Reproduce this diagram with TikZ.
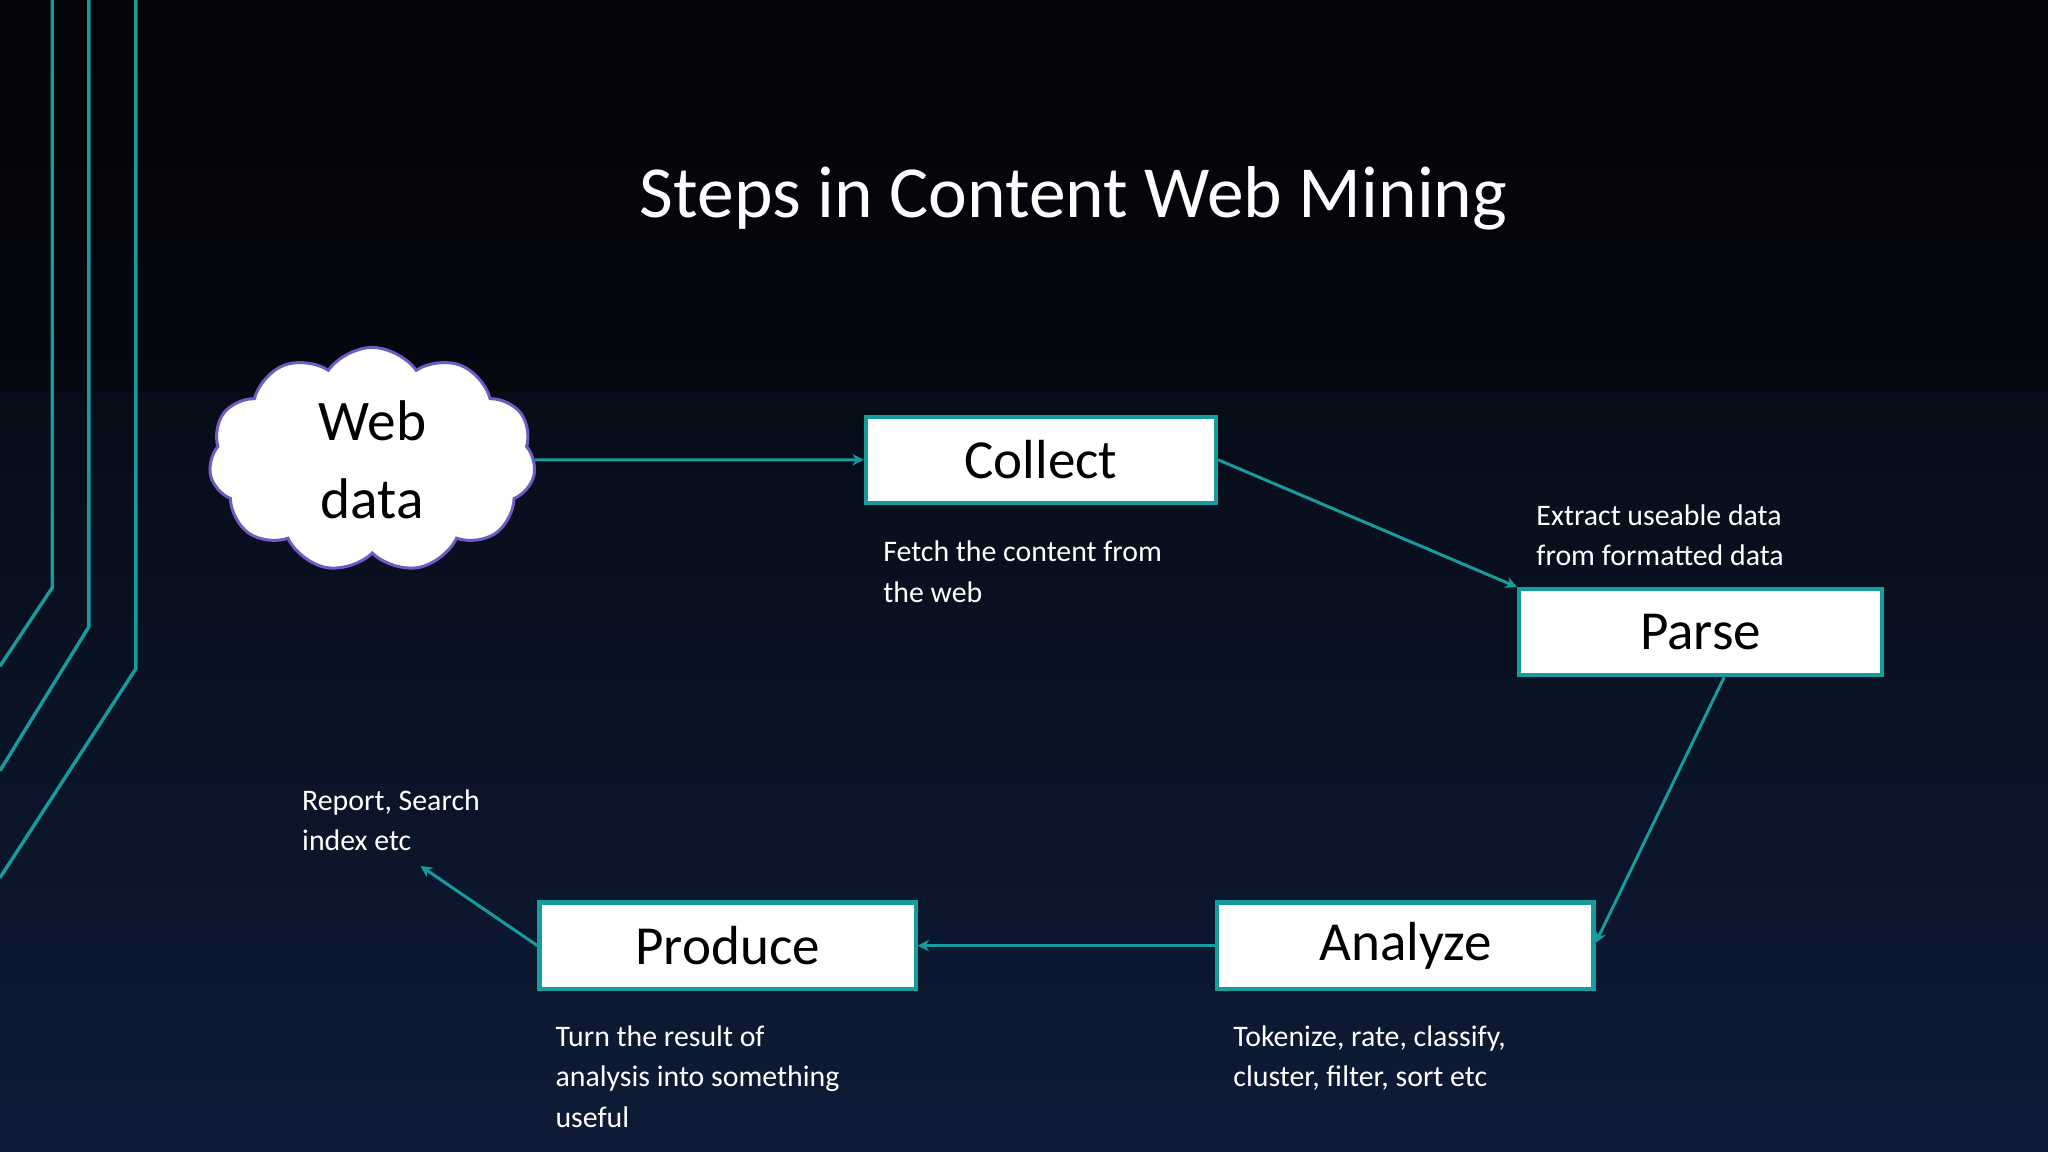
\documentclass[tikz,border=0pt]{standalone}
\usepackage{fontspec}
\setmainfont{Carlito}
\usetikzlibrary{shapes.symbols,arrows.meta}
\definecolor{teal1}{HTML}{169C9C}
\definecolor{bgA}{HTML}{030407}
\definecolor{bgB}{HTML}{0E1C38}
\definecolor{cloudline}{HTML}{6E5CC4}
\begin{document}
\begin{tikzpicture}[x=0.02cm,y=-0.02cm,
  box/.style={draw=teal1,line width=1.8pt,fill=white,minimum width=268*0.02cm,minimum height=66*0.02cm,font=\fontsize{24}{28}\selectfont,text=black},
  conn/.style={draw=teal1,line width=1.3pt,-{Stealth[length=5pt,width=5pt]}},
  note/.style={text=white,font=\fontsize{13}{17.6}\selectfont,align=left,anchor=north west,inner sep=0pt}]
\shade[left color=bgA,right color=bgB,shading angle=0] (0,0) rectangle (1568,882);
\fill[bgA,opacity=0.45] (0,0) rectangle (1568,300);
\useasboundingbox (0,0) rectangle (1568,882);
\begin{scope}[draw=teal1,line width=1.5pt]
\draw (40,0) -- (40,450) -- (0,510);
\draw (68,0) -- (68,480) -- (0,590);
\draw (104,0) -- (104,512) -- (0,672);
\end{scope}
\node[text=white,font=\fontsize{32}{38}\selectfont] (title) at (822,152) {Steps in Content Web Mining};
\node[cloud,cloud puffs=11,cloud puff arc=110,aspect=1.4,draw=cloudline,line width=1.3pt,fill=white,minimum width=250*0.02cm,minimum height=172*0.02cm,align=center,font=\fontsize{25}{34}\selectfont] (web) at (285,352) {Web\\data};
\node[box,minimum width=268*0.02cm] (collect) at (797,352) {Collect};
\node[box,minimum width=278*0.02cm] (parse) at (1302,484) {Parse};
\node[box,minimum width=288*0.02cm] (analyze) at (1076,724) {Analyze};
\node[box,minimum width=288*0.02cm] (produce) at (557,724) {Produce};
\coordinate (out) at (322,663);
\draw[conn] (web.east) -- (collect.west);
\draw[conn] (collect.east) -- (parse.north west);
\draw[conn] (parse.south) ++(18,0) coordinate (ps) -- (analyze.north east |- 0,722) ;
\draw[conn] (analyze.west) -- (produce.east);
\draw[conn] (produce.west) -- (out);
\node[note] (n1) at (676,414) {Fetch the content from\\the web};
\node[note] (n2) at (1176,386) {Extract useable data\\from formatted data};
\node[note] (n3) at (231,604) {Report, Search\\index etc};
\node[note] (n4) at (425,785) {Turn the result of\\analysis into something\\useful};
\node[note] (n5) at (944,785) {Tokenize, rate, classify,\\cluster, filter, sort etc};
\end{tikzpicture}
\end{document}
